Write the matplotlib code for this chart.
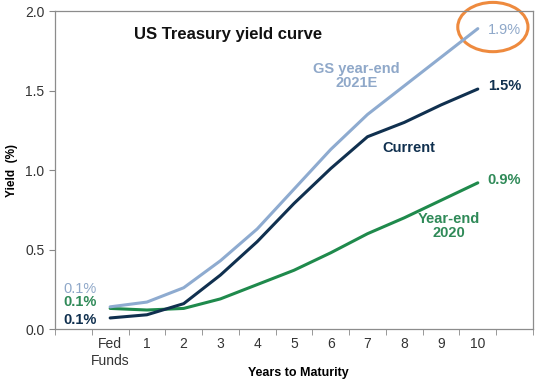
import numpy as np
import matplotlib
matplotlib.use('Agg')
import matplotlib.pyplot as plt
from matplotlib.patches import Ellipse

plt.rcParams['font.family'] = ['Liberation Sans', 'DejaVu Sans']

# categories: blank slot, Fed Funds, 1..10 years, blank slot
tick_labels = ['Fed\nFunds', '1', '2', '3', '4', '5', '6', '7', '8', '9', '10']
gs_2021e = [0.14, 0.17, 0.26, 0.43, 0.63, 0.88, 1.13, 1.35, 1.53, 1.71, 1.89]
current = [0.07, 0.09, 0.16, 0.34, 0.55, 0.79, 1.01, 1.21, 1.30, 1.41, 1.51]
ye_2020 = [0.13, 0.12, 0.13, 0.19, 0.28, 0.37, 0.48, 0.60, 0.70, 0.81, 0.92]

c_gs = '#8eabd0'
c_cur = '#10304f'
c_ye = '#1f8a4c'
c_gs_txt = '#8fa8c9'
c_ye_txt = '#2f8a58'

x = np.arange(1, len(tick_labels) + 1)

fig = plt.figure(figsize=(5.5, 3.84), dpi=100)
ax = fig.add_axes([0.1, 0.143, 0.869, 0.828])

ax.plot(x, ye_2020, color=c_ye, lw=2.2, solid_capstyle='round')
ax.plot(x, gs_2021e, color=c_gs, lw=2.2, solid_capstyle='round')
ax.plot(x, current, color=c_cur, lw=2.2, solid_capstyle='round')

ax.set_xlim(-0.5, 12.5)
ax.set_ylim(0, 2.0)
ax.set_yticks([0, 0.5, 1.0, 1.5, 2.0])
ax.set_yticklabels(['0.0', '0.5', '1.0', '1.5', '2.0'])
ax.set_xticks(x)
ax.set_xticklabels(tick_labels)
ax.set_xticks(np.arange(-0.5, 13, 1), minor=True)
ax.tick_params(axis='x', which='major', length=0, pad=6, labelsize=10, colors='#333333')
ax.tick_params(axis='x', which='minor', length=4, color='#888888', direction='out')
ax.tick_params(axis='y', length=4, color='#888888', labelsize=10, labelcolor='#333333')
for s in ax.spines.values():
    s.set_color('#8c8c8c')
    s.set_linewidth(0.9)

ax.set_ylabel('Yield  (%)', fontsize=8.5, fontweight='bold')
ax.yaxis.set_label_coords(-0.077, 0.5)
ax.set_xlabel('Years to Maturity', fontsize=9, fontweight='bold', va='center')
ax.xaxis.set_label_coords(0.51, -0.138)

ax.text(4.21, 1.85, 'US Treasury yield curve', fontsize=12, fontweight='bold',
        ha='center', va='center', color='#111111')
ax.text(7.7, 1.59, 'GS year-end\n2021E', fontsize=10.5, fontweight='bold',
        ha='center', va='center', color=c_gs_txt, linespacing=1.0)
ax.text(9.12, 1.14, 'Current', fontsize=10.5, fontweight='bold',
        ha='center', va='center', color=c_cur)
ax.text(10.21, 0.65, 'Year-end\n2020', fontsize=10.5, fontweight='bold',
        ha='center', va='center', color=c_ye_txt, linespacing=1.0)

ax.text(11.27, 1.88, '1.9%', fontsize=10.5, ha='left', va='center', color=c_gs_txt)
ax.text(11.27, 1.53, '1.5%', fontsize=10.5, fontweight='bold', ha='left', va='center', color=c_cur)
ax.text(11.27, 0.94, '0.9%', fontsize=10.5, fontweight='bold', ha='left', va='center', color=c_ye_txt)

ax.text(0.18, 0.25, '0.1%', fontsize=10.5, ha='center', va='center', color=c_gs_txt)
ax.text(0.18, 0.17, '0.1%', fontsize=10.5, fontweight='bold', ha='center', va='center', color=c_ye_txt)
ax.text(0.18, 0.055, '0.1%', fontsize=10.5, fontweight='bold', ha='center', va='center', color=c_cur)

ax.add_patch(Ellipse((11.41, 1.90), 1.91, 0.31, fill=False, edgecolor='#ee8a3e',
                     lw=2.2, clip_on=False))

fig.savefig('out.png', dpi=100)
